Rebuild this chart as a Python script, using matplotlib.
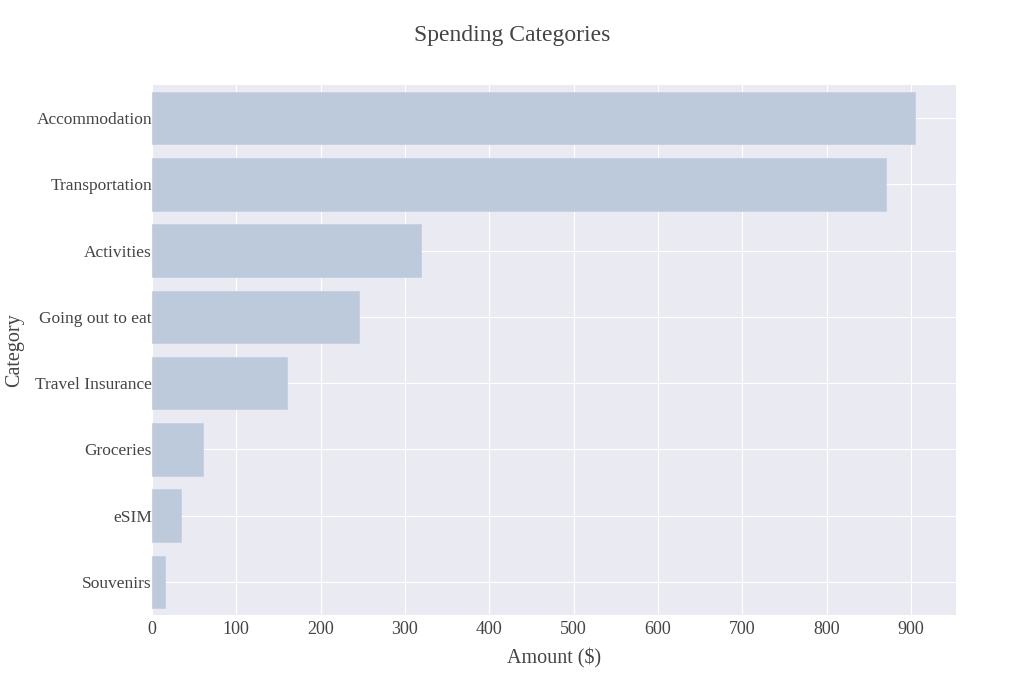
import matplotlib
matplotlib.use("Agg")
import matplotlib.pyplot as plt

categories = ["Accommodation", "Transportation", "Activities", "Going out to eat",
              "Travel Insurance", "Groceries", "eSIM", "Souvenirs"]
amounts = [905, 870, 319, 245, 160, 61, 35, 15]

plt.rcParams["font.family"] = ["Liberation Serif", "DejaVu Serif"]
TXT = "#444444"

fig = plt.figure(figsize=(10.24, 6.83), dpi=100)
ax = fig.add_axes([0.1484, 0.0996, 0.7849, 0.7759])
ax.set_facecolor("#eaeaf2")

y = list(range(len(categories)))
ax.barh(y, amounts, height=0.79, color="#bccadc", edgecolor="#c5d0e0", linewidth=0.6, zorder=2)
ax.set_ylim(len(categories) - 0.5, -0.5)
ax.set_xlim(0, 953)
ax.set_yticks(y)
ax.set_yticklabels(categories)
ax.set_xticks(range(0, 1000, 100))

ax.grid(True, color="white", linewidth=0.8, zorder=0)
ax.set_axisbelow(True)
for s in ax.spines.values():
    s.set_visible(False)
ax.tick_params(length=0, labelsize=12.5, labelcolor=TXT, pad=0)
ax.tick_params(axis="x", pad=4, labelsize=13)

ax.set_xlabel("Amount ($)", fontsize=14.5, color=TXT, labelpad=8)
ax.set_ylabel("Category", fontsize=14.5, color=TXT, labelpad=8)
fig.text(0.5, 0.948, "Spending Categories", ha="center", va="center", fontsize=17, color=TXT)

fig.savefig("out.png", dpi=100)
